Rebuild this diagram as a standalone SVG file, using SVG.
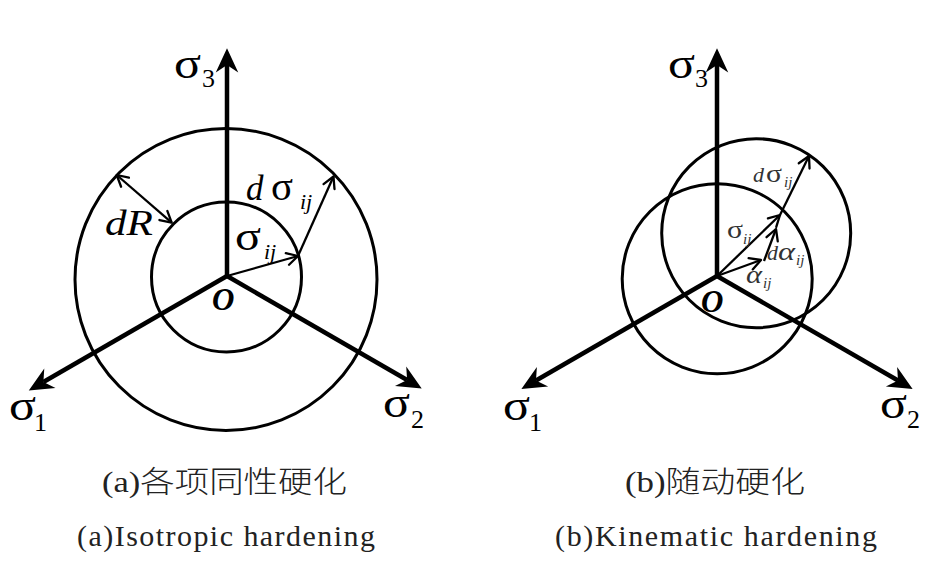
<svg xmlns="http://www.w3.org/2000/svg" width="942" height="573" viewBox="0 0 942 573">
<style>
.ax{stroke:#000;stroke-width:4.5;fill:none}
.circ{stroke:#000;stroke-width:3;fill:none}
.vec{stroke:#000;stroke-width:2.3;fill:none}
.t{font-family:"Liberation Serif",serif;fill:#000}
.it{font-style:italic}
.g{fill:#333}
.cap{font-family:"Liberation Serif","Noto Sans CJK SC",serif;font-size:30px;fill:#222}
.cjk{font-family:"Noto Sans CJK SC",sans-serif;font-weight:300}
</style>
<defs>
<marker id="big" markerUnits="userSpaceOnUse" markerWidth="30" markerHeight="30" viewBox="-2 -14 32 28" refX="8" refY="0" orient="auto" overflow="visible">
<path d="M26,0 L0,-12 L8,0 L0,12 Z" fill="#000"/>
</marker>
<marker id="thin" markerUnits="userSpaceOnUse" markerWidth="20" markerHeight="20" viewBox="-14 -10 20 20" refX="0" refY="0" orient="auto-start-reverse" overflow="visible">
<path d="M-11,-6 L0,0 L-11,6" fill="none" stroke="#000" stroke-width="2.3" stroke-linecap="round" stroke-linejoin="round"/>
</marker>
</defs>

<!-- Panel (a) -->
<g id="a-circles">
<circle class="circ" cx="226" cy="279.5" r="151"/>
<circle class="circ" cx="226.5" cy="277" r="75"/>
</g>
<g id="a-connectors">
<line class="ax" x1="227" y1="276" x2="227" y2="65" marker-end="url(#big)"/>
<line class="ax" x1="227" y1="276" x2="43.4" y2="382" marker-end="url(#big)"/>
<line class="ax" x1="227" y1="276" x2="407.1" y2="380" marker-end="url(#big)"/>
<line class="vec" x1="227" y1="276" x2="298" y2="256" marker-end="url(#thin)"/>
<line class="vec" x1="298" y1="256" x2="333.5" y2="176.5" marker-end="url(#thin)"/>
<line class="vec" x1="116.7" y1="175" x2="171.7" y2="222.7" marker-start="url(#thin)" marker-end="url(#thin)"/>
</g>
<g id="a-labels">
<text class="t" x="174" y="78" font-size="44" textLength="27" lengthAdjust="spacingAndGlyphs">σ</text>
<text class="t" x="202" y="87" font-size="26">3</text>
<text class="t" x="9" y="420" font-size="44" textLength="27" lengthAdjust="spacingAndGlyphs">σ</text>
<text class="t" x="34" y="431" font-size="26">1</text>
<text class="t" x="383" y="417" font-size="44" textLength="27" lengthAdjust="spacingAndGlyphs">σ</text>
<text class="t" x="411" y="428" font-size="26">2</text>
<text class="t it" x="105" y="235" font-size="35" textLength="48" lengthAdjust="spacingAndGlyphs">dR</text>
<text class="t it" x="246" y="200" font-size="35">d</text>
<text class="t" x="271" y="200" font-size="40" textLength="22" lengthAdjust="spacingAndGlyphs">σ</text>
<text class="t it" x="300" y="209" font-size="22">ij</text>
<text class="t" x="235" y="250" font-size="42" textLength="26" lengthAdjust="spacingAndGlyphs">σ</text>
<text class="t it" x="264" y="259" font-size="22">ij</text>
<text class="t it" x="212" y="310" font-size="31" font-weight="bold">O</text>
</g>

<!-- Panel (b) -->
<g id="b-circles">
<circle class="circ" cx="717.2" cy="278.7" r="95"/>
<circle class="circ" cx="756.2" cy="233.2" r="94.5"/>
</g>
<g id="b-connectors">
<line class="ax" x1="717" y1="276" x2="717" y2="65" marker-end="url(#big)"/>
<line class="ax" x1="717" y1="276" x2="536" y2="380.5" marker-end="url(#big)"/>
<line class="ax" x1="717" y1="276" x2="898" y2="380.5" marker-end="url(#big)"/>
<line class="vec" x1="717" y1="276" x2="761" y2="260" marker-end="url(#thin)"/>
<line class="vec" x1="764" y1="261" x2="776" y2="229" stroke-width="3" marker-end="url(#thin)"/>
<line class="vec" x1="717" y1="276" x2="780" y2="215" marker-end="url(#thin)"/>
<line class="vec" x1="780" y1="215" x2="809" y2="156" marker-end="url(#thin)"/>
</g>
<g id="b-labels">
<text class="t" x="668" y="78" font-size="44" textLength="27" lengthAdjust="spacingAndGlyphs">σ</text>
<text class="t" x="695" y="87" font-size="26">3</text>
<text class="t" x="503" y="420" font-size="44" textLength="27" lengthAdjust="spacingAndGlyphs">σ</text>
<text class="t" x="529" y="431" font-size="26">1</text>
<text class="t" x="880" y="418" font-size="44" textLength="27" lengthAdjust="spacingAndGlyphs">σ</text>
<text class="t" x="907" y="428" font-size="26">2</text>
<text class="t it g" x="753" y="182" font-size="22">d</text>
<text class="t g" x="766" y="182" font-size="26" textLength="16" lengthAdjust="spacingAndGlyphs">σ</text>
<text class="t it g" x="784" y="187" font-size="15">ij</text>
<text class="t g" x="727" y="238" font-size="26" textLength="16" lengthAdjust="spacingAndGlyphs">σ</text>
<text class="t it g" x="743" y="244" font-size="15">ij</text>
<text class="t it g" x="767" y="260" font-size="22">d</text>
<text class="t it g" x="778" y="260" font-size="26" textLength="17" lengthAdjust="spacingAndGlyphs">α</text>
<text class="t it g" x="796" y="265" font-size="15">ij</text>
<text class="t it g" x="746" y="283" font-size="26" textLength="16" lengthAdjust="spacingAndGlyphs">α</text>
<text class="t it g" x="763" y="288" font-size="15">ij</text>
<text class="t it" x="701" y="312" font-size="31" font-weight="bold">O</text>
</g>

<g id="captions">
<text class="cap" x="102" y="492" textLength="245" lengthAdjust="spacingAndGlyphs">(a)<tspan class="cjk">各项同性硬化</tspan></text>
<text class="cap" x="77" y="546" textLength="298" lengthAdjust="spacing">(a)Isotropic hardening</text>
<text class="cap" x="625" y="492" textLength="180" lengthAdjust="spacingAndGlyphs">(b)<tspan class="cjk">随动硬化</tspan></text>
<text class="cap" x="555" y="546" textLength="322" lengthAdjust="spacing">(b)Kinematic hardening</text>
</g>
</svg>
